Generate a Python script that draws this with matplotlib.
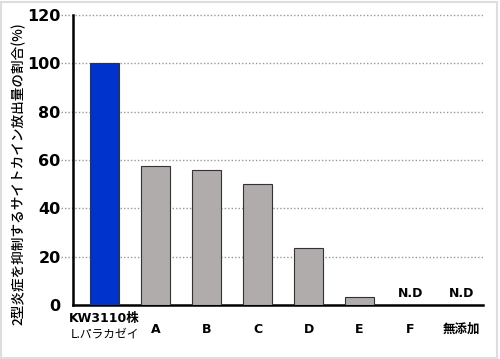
import matplotlib.pyplot as plt
from matplotlib.patches import Rectangle

plt.rcParams['font.family'] = ['DejaVu Sans', 'Noto Sans CJK JP']

# data
categories = ['KW3110株', 'A', 'B', 'C', 'D', 'E', 'F', '無添加']
subtitle = 'L.パラカゼイ'
values = [100, 57.5, 56, 50, 23.5, 3.5, 0, 0]
not_detected = [False, False, False, False, False, False, True, True]
colors = ['#0033cc'] + ['#b0acac'] * 7
yticks = [0, 20, 40, 60, 80, 100, 120]

fig = plt.figure(figsize=(5, 3.59), dpi=100)
ax = fig.add_axes([0.146, 0.15, 0.82, 0.808])

x = list(range(len(categories)))
ax.bar(x, values, width=0.57, color=colors, edgecolor='#333333', linewidth=0.8, zorder=3)

for xi, nd in zip(x, not_detected):
    if nd:
        ax.text(xi, 2, 'N.D', ha='center', va='bottom', fontsize=9, fontweight='bold')

ax.set_xlim(-0.62, 7.42)
ax.set_ylim(0, 120)
ax.set_yticks(yticks)
ax.set_yticklabels([str(v) for v in yticks], fontsize=11.5, fontweight='bold')
ax.set_xticks(x)
# first label is two lines, drawn by hand below; the rest sit centred between them
ax.set_xticklabels([''] + categories[1:], fontsize=9, fontweight='bold')
ax.tick_params(axis='y', length=0, pad=9)
ax.tick_params(axis='x', length=0, pad=13)
ax.text(0, -5.4, categories[0], ha='center', va='center', fontsize=9, fontweight='bold')
ax.text(0, -11.8, subtitle, ha='center', va='center', fontsize=8.5, style='italic',
        family=['Noto Sans CJK JP'])

# dotted gridlines, slightly overhanging the left spine
for v in yticks[1:]:
    ax.plot([-0.85, 7.42], [v, v], linestyle=(0, (1, 1.5)), color='#999999',
            linewidth=1, zorder=1, clip_on=False)

for s in ['top', 'right']:
    ax.spines[s].set_visible(False)
ax.spines['left'].set_linewidth(1.8)
ax.spines['bottom'].set_linewidth(1.8)

ax.set_ylabel('2型炎症を抑制するサイトカイン放出量の割合(%)', fontsize=9.8,
              family=['Noto Sans CJK JP'], fontweight='medium')
ax.yaxis.set_label_coords(-0.115, 0.455)

fig.patches.append(Rectangle((0.002, 0.004), 0.992, 0.99, transform=fig.transFigure,
                             fill=False, edgecolor='#dddddd', linewidth=1.5))

fig.savefig('out.png', dpi=100)
